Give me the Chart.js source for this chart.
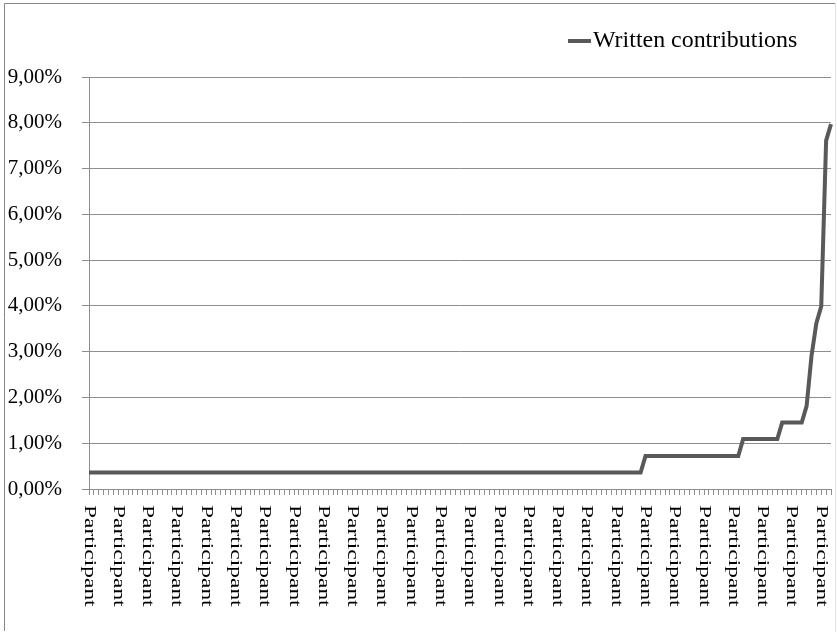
<!DOCTYPE html>
<html>
<head>
<meta charset="utf-8">
<script src="https://cdn.jsdelivr.net/npm/chart.js@4.4.1/dist/chart.umd.min.js"></script>
<style>
html,body{margin:0;padding:0;background:#fff;}
#wrap{position:absolute;left:0;top:0;width:837px;height:632px;}
</style>
</head>
<body>
<div id="wrap"><canvas id="c" width="837" height="632"></canvas></div>
<script>
const seriesName = 'Written contributions';
const categoryLabel = 'Participant';
// share of written contributions per participant (%), sorted ascending
const contributions = [
  0.36,0.36,0.36,0.36,0.36,0.36,0.36,0.36,0.36,0.36,
  0.36,0.36,0.36,0.36,0.36,0.36,0.36,0.36,0.36,0.36,
  0.36,0.36,0.36,0.36,0.36,0.36,0.36,0.36,0.36,0.36,
  0.36,0.36,0.36,0.36,0.36,0.36,0.36,0.36,0.36,0.36,
  0.36,0.36,0.36,0.36,0.36,0.36,0.36,0.36,0.36,0.36,
  0.36,0.36,0.36,0.36,0.36,0.36,0.36,0.36,0.36,0.36,
  0.36,0.36,0.36,0.36,0.36,0.36,0.36,0.36,0.36,0.36,
  0.36,0.36,0.36,0.36,0.36,0.36,0.36,0.36,0.36,0.36,
  0.36,0.36,0.36,0.36,0.36,0.36,0.36,0.36,0.36,0.36,
  0.36,0.36,0.36,0.36,0.36,0.36,0.36,0.36,0.36,0.36,
  0.36,0.36,0.36,0.36,0.36,0.36,0.36,0.36,0.36,0.36,
  0.36,0.36,0.36,0.36,
  0.72,0.72,0.72,0.72,0.72,0.72,0.72,0.72,0.72,0.72,
  0.72,0.72,0.72,0.72,0.72,0.72,0.72,0.72,0.72,0.72,
  1.09,1.09,1.09,1.09,1.09,1.09,1.09,1.09,
  1.45,1.45,1.45,1.45,1.45,
  1.81,2.90,3.62,3.99,7.61,7.97
];
const categories = contributions.map(() => categoryLabel);
const labelEvery = 6;
const yTicks = [0,1,2,3,4,5,6,7,8,9];

const FONT = '"Liberation Serif", "Times New Roman", serif';
const GRID = '#8e8e8e';
const LINE = '#595959';

const framePlugin = {
  id: 'frame',
  beforeDraw(chart) {
    const ctx = chart.ctx;
    ctx.save();
    ctx.fillStyle = '#fff';
    ctx.fillRect(0, 0, chart.width, chart.height);
    ctx.strokeStyle = '#868686';
    ctx.lineWidth = 1;
    ctx.beginPath();
    ctx.moveTo(835.5, 3.5); ctx.lineTo(4.5, 3.5); ctx.lineTo(4.5, 631);
    ctx.stroke();
    ctx.strokeStyle = '#e2e2e2';
    ctx.beginPath();
    ctx.moveTo(835.5, 3.5); ctx.lineTo(835.5, 632);
    ctx.stroke();
    ctx.restore();
  },
  afterDraw(chart) {
    const ctx = chart.ctx;
    const xs = chart.scales.x;
    ctx.save();
    // rotated category labels (reading top to bottom)
    ctx.fillStyle = '#000';
    ctx.font = '17px ' + FONT;
    ctx.textAlign = 'left';
    ctx.textBaseline = 'middle';
    categories.forEach((lab, i) => {
      if (i % labelEvery !== 0) return;
      const x = xs.getPixelForTick(i);
      ctx.save();
      ctx.translate(x, xs.top + 16);
      ctx.rotate(Math.PI / 2);
      ctx.scale(1.38, 1);
      ctx.fillText(lab, 0, 0);
      ctx.restore();
    });
    // legend
    ctx.strokeStyle = LINE;
    ctx.lineWidth = 4;
    ctx.beginPath();
    ctx.moveTo(568, 41); ctx.lineTo(591, 41);
    ctx.stroke();
    ctx.font = '23px ' + FONT;
    ctx.textBaseline = 'middle';
    ctx.save();
    ctx.translate(593, 41);
    ctx.scale(1.04, 1);
    ctx.fillText(seriesName, 0, 0);
    ctx.restore();
    ctx.restore();
  }
};

new Chart(document.getElementById('c'), {
  type: 'line',
  data: {
    labels: categories,
    datasets: [{
      label: seriesName,
      data: contributions,
      borderColor: LINE,
      backgroundColor: LINE,
      borderWidth: 4,
      pointRadius: 0,
      tension: 0,
      fill: false
    }]
  },
  options: {
    responsive: false,
    animation: false,
    devicePixelRatio: 1,
    layout: { padding: { top: 77, left: 7, right: 6, bottom: 0 } },
    plugins: { legend: { display: false }, tooltip: { enabled: false } },
    scales: {
      x: {
        type: 'category',
        offset: false,
        afterFit(s) { s.height = 143; },
        border: { display: true, color: GRID, width: 1 },
        grid: { display: true, drawOnChartArea: false, drawTicks: true, tickLength: 6, color: GRID },
        ticks: { display: false }
      },
      y: {
        min: 0, max: 9,
        afterFit(s) { s.width = 82; },
        afterBuildTicks(s) { s.ticks = yTicks.map(v => ({ value: v })); },
        border: { display: true, color: GRID, width: 1 },
        grid: { color: GRID, lineWidth: 1, tickLength: 7 },
        ticks: {
          padding: 20,
          color: '#000',
          font: { family: FONT, size: 21 },
          callback: v => v.toFixed(2).replace('.', ',') + '%'
        }
      }
    }
  },
  plugins: [framePlugin]
});
</script>
</body>
</html>
